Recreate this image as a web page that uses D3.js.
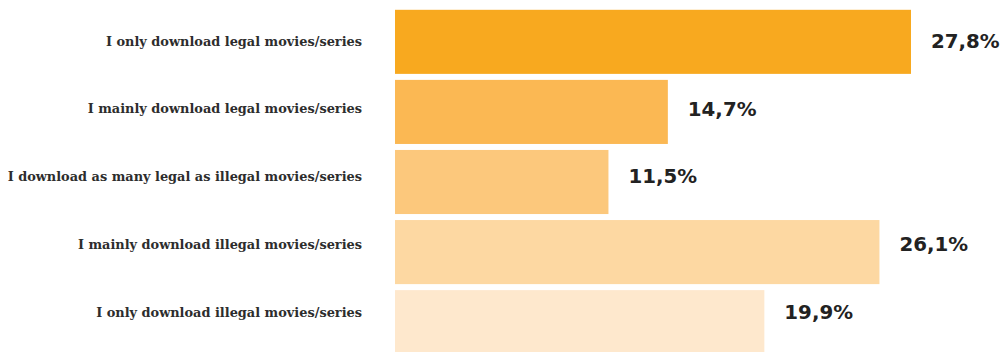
<!DOCTYPE html>
<html>
<head>
<meta charset="utf-8">
<script src="https://cdn.jsdelivr.net/npm/d3@7"></script>
<style>
  html, body { margin: 0; padding: 0; background: #fff; }
  svg { display: block; }
</style>
</head>
<body>
<svg id="chart" width="1005" height="352"></svg>
<script>
// Download behaviour for movies and series (share of respondents, %)
const categories = [
  "I only download legal movies/series",
  "I mainly download legal movies/series",
  "I download as many legal as illegal movies/series",
  "I mainly download illegal movies/series",
  "I only download illegal movies/series"
];
const shares = [27.8, 14.7, 11.5, 26.1, 19.9];
const shareLabels = ["27,8%", "14,7%", "11,5%", "26,1%", "19,9%"];
const barColors = ["#f8a91f", "#fbb853", "#fcc87c", "#fdd8a2", "#fee8cd"];

const width = 1005, height = 352;
const svg = d3.select("#chart");

const x = d3.scaleLinear().domain([0, 27.8]).range([395, 911]);
const y = d3.scaleBand().domain(categories).range([7, 357]).paddingInner(6 / 70).paddingOuter(0.04);
const labelY = d3.scalePoint().domain(categories).range([41, 312]);

const rows = categories.map((c, i) => ({ cat: c, value: shares[i], label: shareLabels[i], color: barColors[i] }));

svg.append("g")
  .selectAll("rect")
  .data(rows)
  .join("rect")
  .attr("x", x(0))
  .attr("y", d => y(d.cat))
  .attr("width", d => x(d.value) - x(0))
  .attr("height", y.bandwidth())
  .attr("fill", d => d.color);

svg.append("g")
  .selectAll("text")
  .data(rows)
  .join("text")
  .attr("x", 362)
  .attr("y", d => labelY(d.cat))
  .attr("dy", "0.35em")
  .attr("text-anchor", "end")
  .attr("font-family", "'DejaVu Serif', serif")
  .attr("font-size", 12.9)
  .attr("font-weight", 600)
  .attr("fill", "#2d2d2d")
  .text(d => d.cat);

svg.append("g")
  .selectAll("text")
  .data(rows)
  .join("text")
  .attr("x", d => x(d.value) + 20)
  .attr("y", d => labelY(d.cat))
  .attr("dy", "0.35em")
  .attr("font-family", "'DejaVu Sans', Verdana, sans-serif")
  .attr("font-size", 19.8)
  .attr("font-weight", "bold")
  .attr("fill", "#222")
  .text(d => d.label);
</script>
</body>
</html>
